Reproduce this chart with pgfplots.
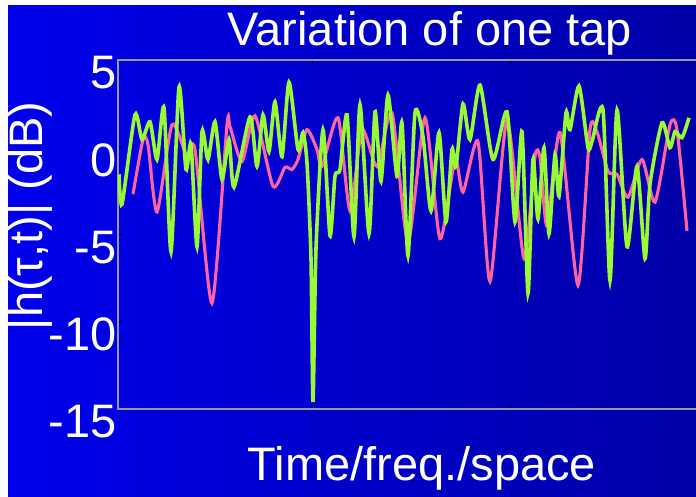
\documentclass[border=0pt]{standalone}
\usepackage{pgfplots}
\pgfplotsset{compat=1.18}
\usepackage{fontspec}
\setmainfont{Liberation Sans}
\definecolor{bgL}{RGB}{0,0,236}
\definecolor{bgR}{RGB}{0,0,168}
\definecolor{lgreen}{RGB}{153,250,51}
\definecolor{lpink}{RGB}{255,100,160}
\begin{document}
\begin{tikzpicture}
\useasboundingbox (0,0) rectangle (696pt,496pt);
\clip (0,0) rectangle (696pt,496pt);
\fill[white] (0,0) rectangle (696pt,496pt);
\shade[left color=bgL, right color=bgR] (8pt,0pt) rectangle (696pt,490pt);
\begin{axis}[
  at={(118pt,87pt)}, anchor=south west,
  width=582pt, height=349pt, scale only axis,
  xmin=118, xmax=700, ymin=-15, ymax=5,
  ytick={-15,-10,-5,0,5}, yticklabels={-15,-10,-5,0,5},
  xtick={312,510}, xticklabels={},
  ytick pos=left,
  major tick length=4pt,
  tick style={black, line width=0.8pt},
  axis line style={gray!80, line width=1.6pt},
  font=\fontsize{47}{51}\selectfont,
  yticklabel style={white, anchor=east, xshift=2pt, yshift=-13pt},
  title={Variation of one tap},
  title style={white, at={(axis description cs:0.536,1)}, anchor=base, yshift=8pt},
  xlabel={Time/freq./space},
  xlabel style={white, at={(axis description cs:0.522,0)}, anchor=base, yshift=-71pt},
  ylabel={|h(τ,t)| (dB)},
  ylabel style={white, at={(axis description cs:-0.150,0.553)}, anchor=center},
]
\addplot[lpink, line width=3.1pt, smooth, tension=0.4] coordinates {
(133,-2.69)(143,0.44)(148,0.15)(157,-3.71)(172,1.29)(187,-0.53)(195,-0.13)(212,-8.94)(227,1.29)(230,1.18)(242,-0.81)(255,1.80)(273,-2.23)(285,-1.15)(292,-1.27)(298,-0.70)(307,1.01)(317,-0.13)(322,-1.10)(338,1.69)(350,-3.65)(362,1.01)(377,-1.10)(392,1.97)(408,-5.47)(425,1.69)(440,-5.24)(455,-0.70)(463,-2.57)(478,0.32)(490,-7.69)(507,1.57)(524,-6.38)(535,-0.53)(540,-0.59)(547,-4.51)(560,0.84)(578,-7.91)(590,1.01)(597,0.89)(608,-1.38)(617,-1.55)(628,-2.86)(642,-0.70)(655,-3.14)(670,1.29)(677,1.0)(687,-4.79)
};
\addplot[lgreen, line width=3.6pt, smooth, tension=0.4] coordinates {
(119,-1.55)(122,-3.26)(135,1.86)(142,0.44)(150,1.46)(157,-0.70)(164,2.26)(171,-5.98)(179,3.45)(186,-1.27)(191,0.15)(197,-5.70)(202,0.89)(208,-0.70)(215,1.46)(222,-1.84)(229,0.44)(234,-2.29)(250,1.74)(257,-1.10)(263,1.86)(269,-0.24)(275,2.60)(282,-0.53)(289,3.73)(298,-0.13)(303,0.84)(307,-0.9)(311,-6.4)(313,-14.6)(316,-5.8)(323,1.0)(330,-5.07)(335,-1.66)(340,-1.27)(347,1.86)(354,-5.13)(360,2.43)(369,-4.96)(375,2.03)(381,-1.95)(388,2.99)(397,-1.66)(402,1.40)(408,-6.21)(415,1.97)(423,0.61)(431,-3.65)(439,0.84)(446,-4.28)(452,-0.13)(456,-1.10)(463,2.48)(470,0.44)(480,3.56)(493,-0.70)(507,2.03)(515,-4.28)(522,0.89)(528,-8.37)(533,-0.70)(538,-4.11)(544,-0.02)(549,-4.96)(555,-0.41)(559,-2.80)(566,1.97)(570,1.01)(579,3.51)(588,-0.02)(592,0.32)(603,2.14)(610,-7.63)(617,2.14)(627,-5.70)(637,-1.10)(645,-6.38)(650,-2.12)(662,1.40)(670,-0.02)(675,0.89)(682,0.55)(689,1.69)
};
\end{axis}
\end{tikzpicture}
\end{document}
